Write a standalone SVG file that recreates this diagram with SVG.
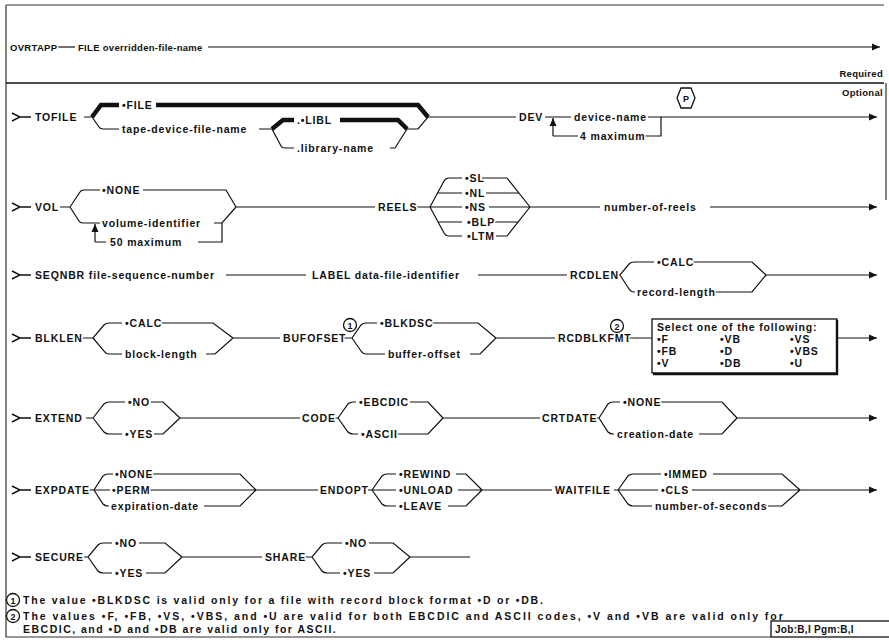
<svg xmlns="http://www.w3.org/2000/svg" width="889" height="643" viewBox="0 0 889 643">
<style>
.t{font-family:"Liberation Sans",Arial,sans-serif;font-weight:bold;font-size:10.5px;letter-spacing:0.85px;fill:#111;stroke:#fff;stroke-width:3px;paint-order:stroke;stroke-linejoin:round}
.h{font-size:9.5px;letter-spacing:0.3px}
.f{font-size:10.5px;letter-spacing:0.2px;stroke:none}
.s{font-size:9px;letter-spacing:0;stroke:none}
.ln{fill:none;stroke:#111;stroke-width:1.2}
.thk{fill:none;stroke:#111;stroke-width:4.5}
.fr{fill:none;stroke:#333;stroke-width:1.2}
.c{fill:none;stroke:#111;stroke-width:1.3}
.a{marker-end:url(#arr)}
</style>
<defs>
<marker id="arr" markerWidth="9" markerHeight="8" refX="8" refY="4" orient="auto" markerUnits="userSpaceOnUse"><path d="M0,0.5 L8,4 L0,7.5 z" fill="#111"/></marker>
<path id="start" d="M-8,-4 L0,0 L-8,4 M0,0 H11" fill="none" stroke="#111" stroke-width="1.4"/>
</defs>
<rect width="889" height="643" fill="#fff"/>
<g id="frame">
<path class="fr" d="M6,5 H884 M6,5 V637 H771 M886,83 V200"/>
<path d="M6,83 H884" stroke="#111" stroke-width="1.6"/>
</g>
<g id="connectors">
<path class="ln" d="M58,47 H75"/>
<path class="ln a" d="M208,47 H880"/>
<use href="#start" x="20" y="117"/>
<path class="ln" d="M84,117 H92 M92,117 L99,127 Q100,129 103,129 H119 M259,129 H272"/>
<path class="thk" d="M92,117 L101,105 H119 M156,105 H418 L428,117"/>
<path class="thk" d="M272,129 L283,120 H294 M340,120 H398 L407,129"/>
<path class="ln" d="M272,129 L281,146 Q282,148 285,148 H294 M390,148 H395 L407,129 M407,129 H418 L428,117 H516 M545,117 H571"/>
<path class="ln a" d="M648,117 H877"/>
<path class="ln" d="M661,117 V136 H640 M578,136 H553"/>
<path class="ln a" d="M553,136 V118"/>
<use href="#start" x="20" y="207"/>
<path class="ln" d="M60,207 H70 L80,192 Q81,190 84,190 H100 M143,190 H226 L236,207 M70,207 L79,221 Q80,223 83,223 H100 M214,223 H222 L236,207 M222,223 V242 H198 M106,242 H95"/>
<path class="ln a" d="M95,242 V224"/>
<path class="ln" d="M236,207 H375 M416,207 H430 L444,181 Q446,178 449,178 H462 M430,207 L444,233 Q446,236 449,236 H462 M438,193 H462 M430,207 H462 M438,222 H462 M482,178 H507 L530,207 M486,193 H519 M489,207 H530 M495,222 H518 M496,236 H507 L530,207 M530,207 H600"/>
<path class="ln a" d="M710,207 H877"/>
<use href="#start" x="20" y="275"/>
<path class="ln" d="M226,275 H306 M478,275 H567 M618,275 H620 L629,264 Q631,262 634,262 H654 M693,262 H752 L766,275 M620,275 L629,289 Q631,292 634,292 H635 M714,292 H752 L766,275"/>
<path class="ln a" d="M766,275 H877"/>
<use href="#start" x="20" y="338"/>
<path class="ln" d="M83,338 H93 L104,325 Q106,323 109,323 H122 M160,323 H213 L233,338 M93,338 L104,351 Q106,354 109,354 H122 M206,354 H215 L233,338 M233,338 H280 M343,338 H352 L361,325 Q363,323 366,323 H377 M432,323 H478 L496,338 M352,338 L361,351 Q363,354 366,354 H385 M470,354 H480 L496,338 M496,338 H555 M625,338 H652"/>
<path class="ln a" d="M837,338 H877"/>
<use href="#start" x="20" y="418"/>
<path class="ln" d="M86,418 H93 L104,404 Q106,402 109,402 H125 M151,402 H163 L180,418 M93,418 L104,432 Q106,434 109,434 H122 M154,434 H163 L180,418 M180,418 H300 M333,418 H338 L348,404 Q350,402 353,402 H356 M410,402 H428 L443,418 M338,418 L348,432 Q350,434 353,434 H358 M398,434 H428 L443,418 M443,418 H540 M596,418 H599 L608,404 Q610,402 613,402 H620 M660,402 H722 L737,418 M599,418 L608,432 Q610,434 613,434 H614 M699,434 H722 L737,418"/>
<path class="ln a" d="M737,418 H877"/>
<use href="#start" x="20" y="490"/>
<path class="ln" d="M89,490 H94 L103,476 Q105,474 108,474 H113 M152,474 H240 L256,490 M94,490 H110 M150,490 H256 M94,490 L103,504 Q105,506 108,506 H109 M204,506 H240 L256,490 M256,490 H318 M368,490 H372 L382,476 Q384,474 387,474 H396 M456,474 H466 L482,490 M372,490 H396 M458,490 H482 M372,490 L382,504 Q384,506 387,506 H396 M448,506 H466 L482,490 M482,490 H552 M614,490 H618 L628,476 Q630,474 633,474 H661 M713,474 H782 L800,490 M618,490 H658 M692,490 H800 M618,490 L628,504 Q630,506 633,506 H652 M768,506 H782 L800,490"/>
<path class="ln a" d="M800,490 H877"/>
<use href="#start" x="20" y="557"/>
<path class="ln" d="M84,557 H88 L98,545 Q100,543 103,543 H112 M139,543 H165 L182,557 M88,557 L98,571 Q100,573 103,573 H112 M146,573 H165 L182,557 M182,557 H262 M305,557 H312 L322,545 Q324,543 327,543 H342 M369,543 H393 L410,557 M312,557 L322,571 Q324,573 327,573 H340 M374,573 H393 L410,557 M410,557 H470"/>
</g>
<g id="header">
<text class="t h" x="10" y="51">OVRTAPP</text>
<text class="t h" x="78" y="51">FILE overridden-file-name</text>
<text class="t h" x="883" y="77" text-anchor="end">Required</text>
<text class="t h" x="883" y="96" text-anchor="end">Optional</text>
</g>
<g id="tofile">
<text class="t" x="35" y="121">TOFILE</text>
<text class="t" x="122" y="109">•FILE</text>
<text class="t" x="122" y="133">tape-device-file-name</text>
<text class="t" x="297" y="124">.•LIBL</text>
<text class="t" x="297" y="152">.library-name</text>
</g>
<g id="dev">
<text class="t" x="519" y="121">DEV</text>
<text class="t" x="574" y="121">device-name</text>
<text class="t" x="580" y="140">4 maximum</text>
<polygon points="677,98 681,88 691,88 695,98 691,108 681,108" class="c"/>
<text class="t s" x="686" y="101.5" text-anchor="middle">P</text>
</g>
<g id="vol">
<text class="t" x="35" y="211">VOL</text>
<text class="t" x="102" y="194">•NONE</text>
<text class="t" x="102" y="227">volume-identifier</text>
<text class="t" x="110" y="246">50 maximum</text>
</g>
<g id="reels">
<text class="t" x="378" y="211">REELS</text>
<text class="t" x="465" y="182">•SL</text>
<text class="t" x="465" y="197">•NL</text>
<text class="t" x="465" y="211">•NS</text>
<text class="t" x="467" y="226">•BLP</text>
<text class="t" x="467" y="240">•LTM</text>
<text class="t" x="604" y="211">number-of-reels</text>
</g>
<g id="seqnbr">
<text class="t" x="35" y="279">SEQNBR file-sequence-number</text>
</g>
<g id="label">
<text class="t" x="312" y="279">LABEL data-file-identifier</text>
</g>
<g id="rcdlen">
<text class="t" x="570" y="279">RCDLEN</text>
<text class="t" x="657" y="266">•CALC</text>
<text class="t" x="637" y="296">record-length</text>
</g>
<g id="blklen">
<text class="t" x="35" y="342">BLKLEN</text>
<text class="t" x="125" y="327">•CALC</text>
<text class="t" x="125" y="358">block-length</text>
</g>
<g id="bufofset">
<text class="t" x="283" y="342">BUFOFSET</text>
<circle cx="350" cy="325" r="6.5" class="c"/>
<text class="t s" x="350" y="328.5" text-anchor="middle">1</text>
<text class="t" x="380" y="327">•BLKDSC</text>
<text class="t" x="388" y="358">buffer-offset</text>
</g>
<g id="rcdblkfmt">
<text class="t" x="558" y="342">RCDBLKFMT</text>
<circle cx="617" cy="326" r="6.5" class="c"/>
<text class="t s" x="617" y="329.5" text-anchor="middle">2</text>
<rect x="652" y="319" width="185" height="54" class="c"/>
<path d="M837,320 V374 H653" fill="none" stroke="#111" stroke-width="2.4"/>
<text class="t" x="657" y="331">Select one of the following:</text>
<text class="t" x="657" y="343">•F</text>
<text class="t" x="720" y="343">•VB</text>
<text class="t" x="790" y="343">•VS</text>
<text class="t" x="657" y="355">•FB</text>
<text class="t" x="720" y="355">•D</text>
<text class="t" x="790" y="355">•VBS</text>
<text class="t" x="657" y="367">•V</text>
<text class="t" x="720" y="367">•DB</text>
<text class="t" x="790" y="367">•U</text>
</g>
<g id="extend">
<text class="t" x="35" y="422">EXTEND</text>
<text class="t" x="128" y="406">•NO</text>
<text class="t" x="125" y="438">•YES</text>
</g>
<g id="code">
<text class="t" x="302" y="422">CODE</text>
<text class="t" x="359" y="406">•EBCDIC</text>
<text class="t" x="361" y="438">•ASCII</text>
</g>
<g id="crtdate">
<text class="t" x="542" y="422">CRTDATE</text>
<text class="t" x="623" y="406">•NONE</text>
<text class="t" x="617" y="438">creation-date</text>
</g>
<g id="expdate">
<text class="t" x="35" y="494">EXPDATE</text>
<text class="t" x="115" y="478">•NONE</text>
<text class="t" x="112" y="494">•PERM</text>
<text class="t" x="111" y="510">expiration-date</text>
</g>
<g id="endopt">
<text class="t" x="320" y="494">ENDOPT</text>
<text class="t" x="399" y="478">•REWIND</text>
<text class="t" x="399" y="494">•UNLOAD</text>
<text class="t" x="399" y="510">•LEAVE</text>
</g>
<g id="waitfile">
<text class="t" x="555" y="494">WAITFILE</text>
<text class="t" x="664" y="478">•IMMED</text>
<text class="t" x="661" y="494">•CLS</text>
<text class="t" x="655" y="510">number-of-seconds</text>
</g>
<g id="secure">
<text class="t" x="35" y="561">SECURE</text>
<text class="t" x="115" y="547">•NO</text>
<text class="t" x="115" y="577">•YES</text>
</g>
<g id="share">
<text class="t" x="265" y="561">SHARE</text>
<text class="t" x="345" y="547">•NO</text>
<text class="t" x="343" y="577">•YES</text>
</g>
<g id="notes">
<circle cx="13" cy="600" r="6.5" class="c"/>
<text class="t s" x="13" y="603.5" text-anchor="middle">1</text>
<text class="t f" x="23" y="604" textLength="520" lengthAdjust="spacing">The value •BLKDSC is valid only for a file with record block format •D or •DB.</text>
<circle cx="13" cy="616" r="6.5" class="c"/>
<text class="t s" x="13" y="619.5" text-anchor="middle">2</text>
<text class="t f" x="23" y="620" textLength="760" lengthAdjust="spacing">The values •F, •FB, •VS, •VBS, and •U are valid for both EBCDIC and ASCII codes, •V and •VB are valid only for</text>
<text class="t f" x="23" y="633" textLength="313" lengthAdjust="spacing">EBCDIC, and •D and •DB are valid only for ASCII.</text>
</g>
<g id="job">
<rect x="771" y="621" width="120" height="16" class="c"/>
<text class="t h" x="775" y="633" style="font-size:10px;stroke:none">Job:B,I Pgm:B,I</text>
</g>
</svg>
